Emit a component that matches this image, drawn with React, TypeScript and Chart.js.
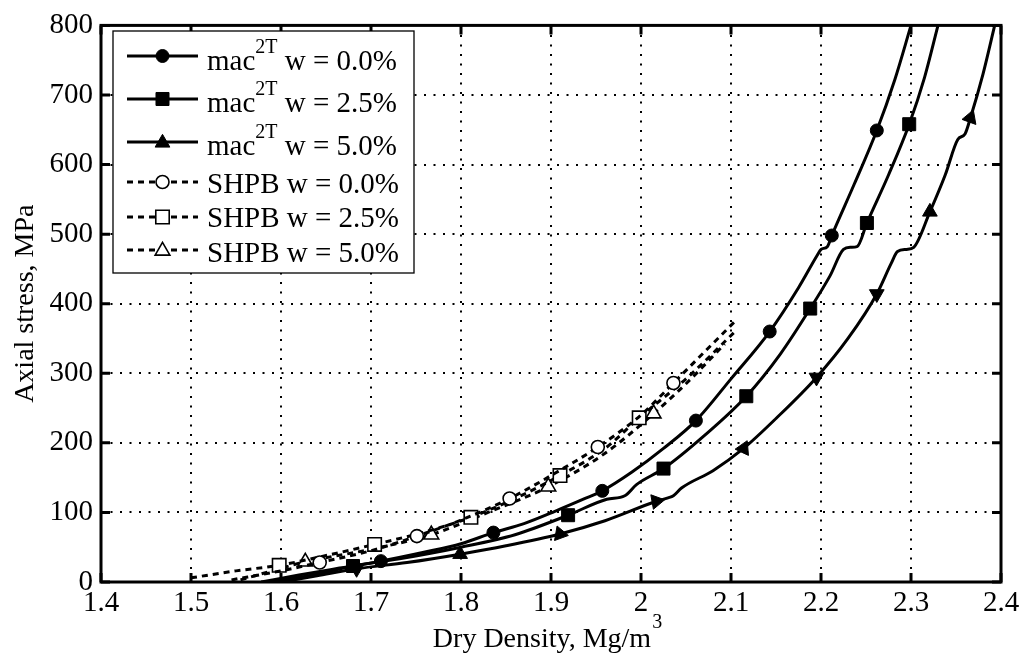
import React, { useEffect, useRef } from "react";
import { Chart, registerables } from "chart.js";
Chart.register(...registerables);

const FONT = "'Liberation Serif', 'Times New Roman', serif";

// Axis ticks
const xTickValues = [1.4, 1.5, 1.6, 1.7, 1.8, 1.9, 2.0, 2.1, 2.2, 2.3, 2.4];
const yTickValues = [0, 100, 200, 300, 400, 500, 600, 700, 800];
const xTitle = "Dry Density, Mg/m";
const xTitleSup = "3";
const yTitle = "Axial stress, MPa";

// Legend labels (^{..} = superscript)
const seriesNames = [
  "mac^{2T} w = 0.0%",
  "mac^{2T} w = 2.5%",
  "mac^{2T} w = 5.0%",
  "SHPB w = 0.0%",
  "SHPB w = 2.5%",
  "SHPB w = 5.0%",
];

// mac2T w = 0.0%
const mac00X = [1.578, 1.62, 1.665, 1.711, 1.76, 1.8, 1.836, 1.87, 1.905, 1.936, 1.957, 1.99, 2.025, 2.061, 2.1, 2.143, 2.175, 2.196, 2.2, 2.207, 2.212, 2.237, 2.262, 2.282, 2.3];
const mac00Y = [0, 10, 20, 30, 43, 55, 71, 84, 102, 119, 131, 158, 192, 232, 292, 360, 423, 470, 478, 482, 498, 572, 649, 722, 800];
const mac00M = [0, 0, 0, 1, 0, 0, 1, 0, 0, 0, 1, 0, 0, 1, 0, 1, 0, 0, 0, 0, 1, 0, 1, 0, 0];

// mac2T w = 2.5%
const mac25X = [1.59, 1.635, 1.68, 1.73, 1.8, 1.86, 1.919, 1.962, 1.982, 1.995, 2.025, 2.07, 2.117, 2.155, 2.188, 2.21, 2.225, 2.233, 2.24, 2.251, 2.275, 2.298, 2.315, 2.33];
const mac25Y = [0, 10, 23, 33, 50, 68, 96, 119, 124, 140, 163, 210, 267, 328, 393, 440, 478, 481, 482, 516, 585, 658, 725, 800];
const mac25M = [0, 0, 1, 0, 0, 0, 1, 0, 0, 0, 1, 0, 1, 0, 1, 0, 0, 0, 0, 1, 0, 1, 0, 0];

// mac2T w = 5.0%
const mac50X = [1.6, 1.64, 1.684, 1.74, 1.799, 1.85, 1.91, 1.96, 2.017, 2.03, 2.036, 2.045, 2.08, 2.114, 2.15, 2.195, 2.23, 2.262, 2.278, 2.285, 2.295, 2.303, 2.321, 2.338, 2.352, 2.36, 2.366, 2.38, 2.393];
const mac50Y = [0, 9, 19, 28, 40, 52, 69, 88, 116, 121, 124, 135, 160, 192, 235, 294, 350, 414, 458, 475, 478, 481, 532, 585, 636, 644, 667, 730, 800];
const mac50M = [0, 0, 1, 0, 1, 0, 1, 0, 1, 0, 0, 0, 0, 1, 0, 1, 0, 1, 0, 0, 0, 0, 1, 0, 0, 0, 1, 0, 0];
const mac50Rot = [0, 0, 180, 0, 0, 0, -20, 0, 200, 0, 0, 0, 0, 25, 0, 180, 0, 180, 0, 0, 0, 0, 0, 0, 0, 0, 20, 0, 0];

// SHPB w = 0.0%
const shpb00X = [1.545, 1.6, 1.643, 1.7, 1.751, 1.8, 1.854, 1.9, 1.952, 2.0, 2.036, 2.07, 2.107];
const shpb00Y = [3, 16, 28, 45, 66, 89, 120, 153, 194, 240, 286, 330, 378];
const shpb00M = [0, 0, 1, 0, 1, 0, 1, 0, 1, 0, 1, 0, 0];

// SHPB w = 2.5%
const shpb25X = [1.5, 1.55, 1.598, 1.65, 1.704, 1.76, 1.811, 1.86, 1.91, 1.96, 1.998, 2.05, 2.103];
const shpb25Y = [6, 16, 24, 38, 54, 72, 93, 120, 153, 192, 236, 292, 358];
const shpb25M = [0, 0, 1, 0, 1, 0, 1, 0, 1, 0, 1, 0, 0];

// SHPB w = 5.0%
const shpb50X = [1.555, 1.59, 1.627, 1.7, 1.767, 1.83, 1.897, 1.96, 2.014, 2.05, 2.093];
const shpb50Y = [3, 16, 29, 47, 68, 100, 137, 185, 242, 285, 342];
const shpb50M = [0, 0, 1, 0, 1, 0, 1, 0, 1, 0, 0];

type Style = { shape: "circle" | "rect" | "triangle"; filled: boolean; dashed: boolean; r: number };
const styles: Style[] = [
  { shape: "circle", filled: true, dashed: false, r: 6.5 },
  { shape: "rect", filled: true, dashed: false, r: 9.2 },
  { shape: "triangle", filled: true, dashed: false, r: 8.5 },
  { shape: "circle", filled: false, dashed: true, r: 6.5 },
  { shape: "rect", filled: false, dashed: true, r: 9.5 },
  { shape: "triangle", filled: false, dashed: true, r: 8.5 },
];
const DASH = [6, 5];

function makeSet(xs: number[], ys: number[], marks: number[], st: Style, rot?: number[]) {
  return {
    data: xs.map((x, i) => ({ x, y: ys[i] })),
    borderColor: "#000",
    borderWidth: 3,
    borderDash: st.dashed ? DASH : [],
    pointStyle: st.shape,
    pointRadius: marks.map((m) => (m ? st.r : 0)),
    pointRotation: rot ? rot : 0,
    pointBackgroundColor: st.filled ? "#000" : "#fff",
    pointBorderColor: "#000",
    pointBorderWidth: st.filled ? 1 : 1.6,
    cubicInterpolationMode: "monotone" as const,
    fill: false,
  };
}

function drawMarker(ctx: CanvasRenderingContext2D, st: Style, x: number, y: number) {
  ctx.save();
  ctx.setLineDash([]);
  ctx.beginPath();
  if (st.shape === "circle") {
    ctx.arc(x, y, st.r, 0, Math.PI * 2);
  } else if (st.shape === "rect") {
    const s = Math.SQRT1_2 * st.r;
    ctx.rect(x - s, y - s, 2 * s, 2 * s);
  } else {
    const r = st.r;
    for (let k = 0; k < 3; k++) {
      const a = -Math.PI / 2 + (k * 2 * Math.PI) / 3;
      const px = x + r * Math.cos(a);
      const py = y + r * Math.sin(a) + r * 0.1;
      if (k === 0) ctx.moveTo(px, py);
      else ctx.lineTo(px, py);
    }
    ctx.closePath();
  }
  ctx.fillStyle = st.filled ? "#000" : "#fff";
  ctx.fill();
  ctx.lineWidth = st.filled ? 1 : 1.6;
  ctx.strokeStyle = "#000";
  ctx.stroke();
  ctx.restore();
}

function drawRichText(ctx: CanvasRenderingContext2D, text: string, x: number, y: number, size: number, supSize: number, supRise: number) {
  const parts = text.split(/(\^\{[^}]*\})/);
  let cx = x;
  for (const p of parts) {
    if (!p) continue;
    if (p.startsWith("^{")) {
      const t = p.slice(2, -1);
      ctx.font = `${supSize}px ${FONT}`;
      ctx.fillText(t, cx, y - supRise);
      cx += ctx.measureText(t).width;
    } else {
      ctx.font = `${size}px ${FONT}`;
      ctx.fillText(p, cx, y);
      cx += ctx.measureText(p).width;
    }
  }
}

const decorPlugin = {
  id: "decor",
  afterDraw(chart: any) {
    const ctx: CanvasRenderingContext2D = chart.ctx;
    const { left, right, top, bottom } = chart.chartArea;
    const xs = chart.scales.x;
    const ys = chart.scales.y;
    ctx.save();
    // inward ticks
    ctx.strokeStyle = "#000";
    ctx.lineWidth = 3;
    ctx.setLineDash([]);
    const TL = 9;
    ctx.beginPath();
    for (const v of xTickValues) {
      const px = xs.getPixelForValue(v);
      ctx.moveTo(px, bottom);
      ctx.lineTo(px, bottom - TL);
      ctx.moveTo(px, top);
      ctx.lineTo(px, top + TL);
    }
    for (const v of yTickValues) {
      const py = ys.getPixelForValue(v);
      ctx.moveTo(left, py);
      ctx.lineTo(left + TL, py);
      ctx.moveTo(right, py);
      ctx.lineTo(right - TL, py);
    }
    ctx.stroke();
    // frame
    ctx.lineWidth = 3;
    ctx.strokeRect(left, top, right - left, bottom - top);

    // legend box
    const bx = 113, by = 31, bw = 301, bh = 242;
    ctx.fillStyle = "#fff";
    ctx.fillRect(bx, by, bw, bh);
    ctx.lineWidth = 1.3;
    ctx.strokeRect(bx, by, bw, bh);
    const lineYs = [56, 99, 142, 182, 217, 250];
    const baseYs = [70, 112, 155, 193, 227, 262];
    ctx.fillStyle = "#000";
    ctx.textAlign = "left";
    ctx.textBaseline = "alphabetic";
    seriesNames.forEach((name, i) => {
      const st = styles[i];
      ctx.save();
      ctx.lineWidth = 3;
      ctx.strokeStyle = "#000";
      ctx.setLineDash(st.dashed ? DASH : []);
      ctx.beginPath();
      ctx.moveTo(127, lineYs[i]);
      ctx.lineTo(198, lineYs[i]);
      ctx.stroke();
      ctx.restore();
      drawMarker(ctx, st, 162.5, lineYs[i]);
      ctx.fillStyle = "#000";
      drawRichText(ctx, name, 207, baseYs[i], 29, 20, 17);
    });

    // axis titles
    ctx.fillStyle = "#000";
    ctx.font = `28px ${FONT}`;
    ctx.textAlign = "left";
    ctx.textBaseline = "alphabetic";
    const w1 = ctx.measureText(xTitle).width;
    ctx.font = `20px ${FONT}`;
    const w2 = ctx.measureText(xTitleSup).width;
    const sx = (left + right) / 2 - 4 - (w1 + w2) / 2;
    ctx.font = `28px ${FONT}`;
    ctx.fillText(xTitle, sx, 647);
    ctx.font = `20px ${FONT}`;
    ctx.fillText(xTitleSup, sx + w1 + 1, 628);

    ctx.save();
    ctx.translate(33, (top + bottom) / 2);
    ctx.rotate(-Math.PI / 2);
    ctx.font = `28px ${FONT}`;
    ctx.textAlign = "center";
    ctx.fillText(yTitle, 0, 0);
    ctx.restore();
    ctx.restore();
  },
};

export default function App() {
  const ref = useRef<HTMLCanvasElement | null>(null);
  useEffect(() => {
    if (!ref.current) return;
    const chart = new Chart(ref.current, {
      type: "line",
      data: {
        datasets: [
          makeSet(mac00X, mac00Y, mac00M, styles[0]),
          makeSet(mac25X, mac25Y, mac25M, styles[1]),
          makeSet(mac50X, mac50Y, mac50M, styles[2], mac50Rot),
          makeSet(shpb00X, shpb00Y, shpb00M, styles[3]),
          makeSet(shpb25X, shpb25Y, shpb25M, styles[4]),
          makeSet(shpb50X, shpb50Y, shpb50M, styles[5]),
        ] as any,
      },
      options: {
        responsive: false,
        animation: false,
        events: [],
        layout: { padding: { top: 18, right: 23, left: 0, bottom: 0 } },
        plugins: { legend: { display: false }, tooltip: { enabled: false } },
        scales: {
          x: {
            type: "linear",
            min: 1.4,
            max: 2.4,
            afterBuildTicks: (s: any) => {
              s.ticks = xTickValues.map((v) => ({ value: v }));
            },
            afterFit: (s: any) => {
              s.height = 86;
            },
            ticks: {
              autoSkip: false,
              maxRotation: 0,
              color: "#000",
              padding: 4,
              font: { family: FONT, size: 29 },
              callback: (v: any) => String(Number(Number(v).toFixed(1))),
            },
            grid: { color: "#000", lineWidth: 2, drawTicks: false },
            border: { display: false, dash: [2, 7.5] },
          },
          y: {
            type: "linear",
            min: 0,
            max: 800,
            afterBuildTicks: (s: any) => {
              s.ticks = yTickValues.map((v) => ({ value: v }));
            },
            afterFit: (s: any) => {
              s.width = 101;
            },
            ticks: {
              color: "#000",
              padding: 8,
              font: { family: FONT, size: 29 },
              callback: (v: any) => String(v),
            },
            grid: { color: "#000", lineWidth: 2, drawTicks: false },
            border: { display: false, dash: [2, 7.5] },
          },
        },
      },
      plugins: [decorPlugin],
    });
    return () => chart.destroy();
  }, []);
  return (
    <div style={{ position: "absolute", left: 0, top: 0, width: 1024, height: 668, background: "#fff" }}>
      <canvas ref={ref} width={1024} height={668} style={{ display: "block" }} />
    </div>
  );
}
